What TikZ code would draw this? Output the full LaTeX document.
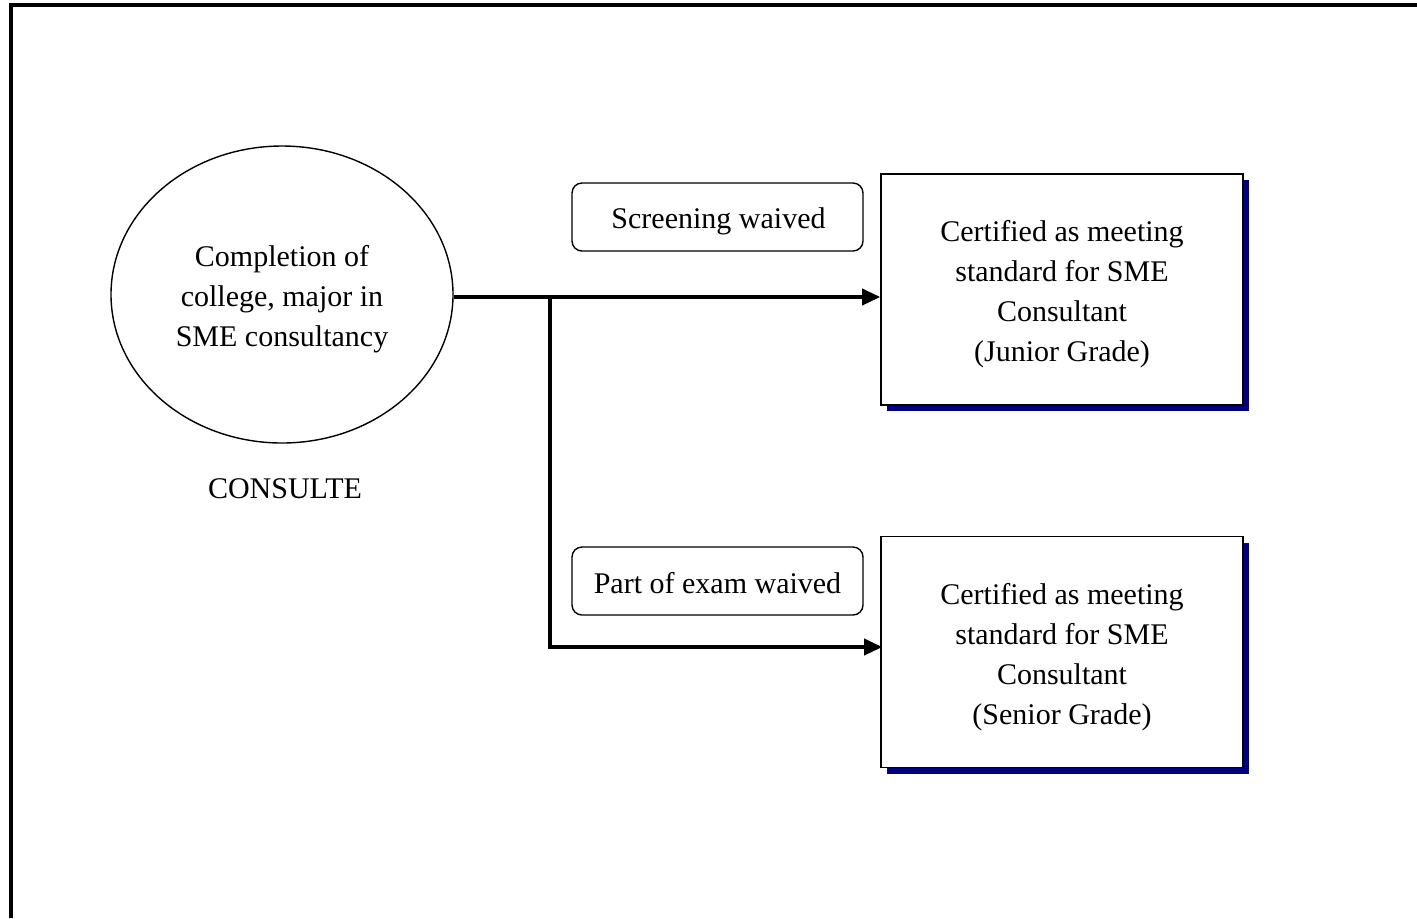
\documentclass[tikz,border=0pt]{standalone}
\usepackage{fontspec}
\setmainfont{Liberation Serif}
\usetikzlibrary{shapes.geometric,arrows.meta,shadows,calc}
\definecolor{navy}{RGB}{0,0,128}
\begin{document}
\begin{tikzpicture}[
  x=0.5pt, y=-0.5pt,
  every node/.style={font=\fontsize{15}{20}\selectfont, align=center},
  startnode/.style={draw, ellipse, line width=0.7pt, minimum width=171pt, minimum height=148.5pt, inner sep=0pt},
  notebox/.style={draw, rounded corners=5pt, line width=0.7pt, minimum width=145.5pt, minimum height=34pt, inner sep=0pt},
  gradebox/.style={draw, fill=white, line width=0.8pt, minimum width=181pt, minimum height=115.5pt, inner sep=0pt,
    drop shadow={shadow xshift=3pt, shadow yshift=-3pt, fill=navy, opacity=1}},
  caption/.style={inner sep=0pt},
  flow/.style={line width=1.8pt, line join=miter, -{Triangle[length=9pt,width=8pt]}}
]
\useasboundingbox (0,0) rectangle (1417,918);

% outer frame (top and left edges)
\draw[line width=1.6pt] (11,918) -- (11,5) -- (1417,5);

% source
\node[startnode] (ell) at (282,294.5) {};
\node[caption] (elltxt) at ($(ell)+(0,5)$) {Completion of\\college, major in\\SME consultancy};
\node (lbl) at (285,489) {CONSULTE};

% waiver notes
\node[notebox] (scr) at (717.5,217) {};
\node[caption] (scrtxt) at ($(scr)+(1,4)$) {Screening waived};
\node[notebox] (part) at (717.5,581) {};
\node[caption] (parttxt) at ($(part)+(0,2)$) {Part of exam waived};

% outcome grades
\node[gradebox] (junior) at (1062,289.5) {};
\node[caption] (juniortxt) at ($(junior)+(0,5)$) {Certified as meeting\\standard for SME\\Consultant\\(Junior Grade)};
\node[gradebox] (senior) at (1062,652) {};
\node[caption] (seniortxt) at ($(senior)+(0,5)$) {Certified as meeting\\standard for SME\\Consultant\\(Senior Grade)};

% connectors
\coordinate (j) at (550,297);
\coordinate (k) at (550,647);
\draw[flow] (ell.east |- j) -- (junior.west |- j);
\draw[flow] (j) -- (k) -- ($(senior.west |- k)+(2,0)$);
\end{tikzpicture}
\end{document}
